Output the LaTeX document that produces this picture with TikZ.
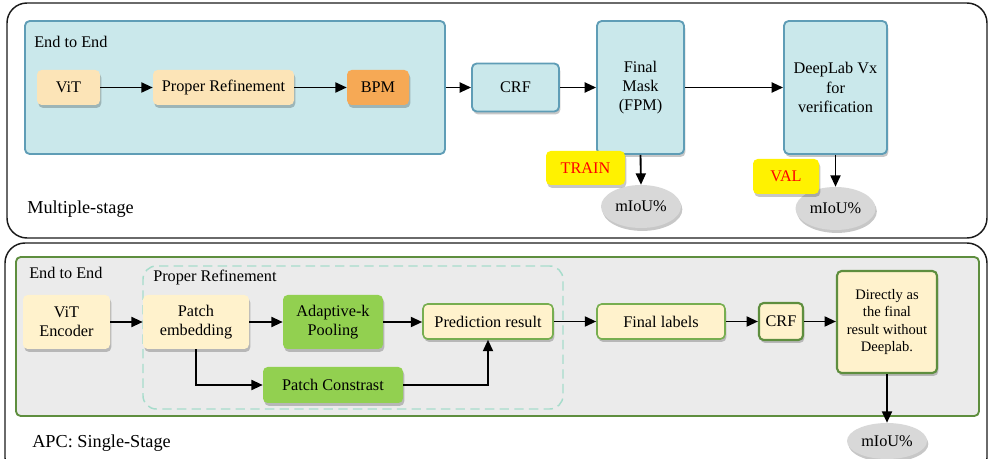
\documentclass[tikz,border=0pt]{standalone}
\usepackage{fontspec}
\setmainfont{Liberation Serif}
\usetikzlibrary{arrows.meta,shapes.geometric,shadows}

\definecolor{cyanfill}{HTML}{CAE8EB}
\definecolor{cyanline}{HTML}{5F9DB6}
\definecolor{peach}{HTML}{FCE4B7}
\definecolor{orng}{HTML}{F6A955}
\definecolor{cream}{HTML}{FFF2CC}
\definecolor{lgreen}{HTML}{92D050}
\definecolor{gline}{HTML}{77AE50}
\definecolor{dgline}{HTML}{5E8E3E}
\definecolor{grayfill}{HTML}{EBEBEB}
\definecolor{dashc}{HTML}{A6DCCB}
\definecolor{ellfill}{HTML}{D8D8D8}
\definecolor{outline}{HTML}{1A1A1A}

\begin{document}
\begin{tikzpicture}[x=0.75pt,y=-0.75pt,
  font=\fontsize{12.2}{14.5}\selectfont,
  sz/.style 2 args={minimum width=#1*0.75pt, minimum height=#2*0.75pt},
  shad/.style={drop shadow={shadow xshift=1pt,shadow yshift=-2.2pt,opacity=0.22,fill=black}},
  base/.style={rectangle, rounded corners=3.5pt, inner sep=0pt, align=center},
  cyanbox/.style={base, fill=cyanfill, draw=cyanline, line width=1.4pt},
  peachbox/.style={base, shad, fill=peach},
  orangebox/.style={base, shad, fill=orng},
  creambox/.style={base, shad, fill=cream},
  creamline/.style={base, shad, fill=cream, draw=gline, line width=1.2pt},
  creamdark/.style={base, shad, fill=cream, draw=dgline, line width=1.6pt},
  greenbox/.style={base, shad, fill=lgreen},
  tag/.style={base, shad, fill=yellow, text=red},
  metric/.style={ellipse, shad, fill=ellfill, inner sep=0pt},
  lbl/.style={anchor=west, inner sep=0pt},
  biglbl/.style={anchor=west, inner sep=0pt, font=\fontsize{13.7}{16}\selectfont},
  arr/.style={-{Triangle[length=8.5pt,width=7.5pt]}, line width=1.4pt, draw=black},
  outer/.style={draw=outline, line width=1.1pt, rounded corners=15pt}
]
\clip (0,0) rectangle (989,459);

% ---------- top panel ----------
\draw[outer] (7,3) rectangle (987,238);
\node[cyanbox, sz={420}{133}] (e2eA) at (235,87.5) {};
\node[lbl] (e2eAlbl) at (34,42) {End to End};
\node[peachbox, sz={63}{35}] (vitA) at (68.5,87.5) {ViT};
\node[peachbox, sz={141}{35}] (prA) at (223.5,87.5) {Proper Refinement};
\node[orangebox, sz={62}{35}] (bpm) at (378,87.5) {BPM};
\node[cyanbox, shad, sz={87}{48}] (crfA) at (515.5,87.5) {CRF};
\node[cyanbox, shad, sz={87}{133}] (fmask) at (640.5,87.5) {Final\\Mask\\(FPM)};
\node[cyanbox, shad, sz={103}{133}] (deeplab) at (835.5,87.5) {DeepLab Vx\\for\\verification};
\node[metric, sz={80}{43}] (miouA) at (641,206.5) {mIoU\%};
\node[tag, sz={79}{34}] (train) at (585.5,168) {TRAIN};
\node[metric, sz={80}{43}] (miouB) at (835.5,208.5) {mIoU\%};
\node[tag, sz={66}{35}] (val) at (786,176.5) {VAL};
\node[biglbl] (multi) at (27,209) {Multiple-stage};

\draw[arr] (vitA) -- (prA);
\draw[arr] (prA) -- (bpm);
\draw[arr] (e2eA) -- (crfA);
\draw[arr] (crfA) -- (fmask);
\draw[arr] (fmask) -- (deeplab);
\draw[arr] (fmask.south) -- (miouA.north);
\draw[arr] (deeplab.south) -- (miouB.north);

% ---------- bottom panel ----------
\draw[outer] (5,243) rectangle (987,478);
\node[base, fill=grayfill, draw=dgline, line width=1.4pt, sz={963}{159}] (e2eB) at (497.5,336.5) {};
\node[lbl] (e2eBlbl) at (29,273) {End to End};
\node[base, draw=dashc, line width=1.1pt, dash pattern=on 7pt off 4pt, rounded corners=10pt, sz={420}{143}] (refine) at (353,337.5) {};
\node[lbl] (refinelbl) at (153,278) {Proper Refinement};
\node[creambox, sz={87}{54}] (vitB) at (66.5,322) {ViT\\Encoder};
\node[creambox, sz={106}{54}] (pemb) at (196,322) {Patch\\embedding};
\node[greenbox, sz={100}{54}] (akp) at (333,322) {Adaptive-k\\Pooling};
\node[greenbox, sz={140}{36}] (pcon) at (333,385) {Patch Constrast};
\node[creamline, sz={130}{35}] (pred) at (488,321.5) {Prediction result};
\node[creamline, sz={128}{35}] (flab) at (661,321.5) {Final labels};
\node[creamdark, sz={44}{37}] (crfB) at (781,321.5) {CRF};
\node[creamdark, sz={100}{102}, font=\fontsize{10.9}{13}\selectfont] (direct) at (887,322) {Directly as\\the final\\result without\\Deeplab.};
\node[metric, sz={80}{36}] (miouC) at (887,441) {mIoU\%};
\node[biglbl] (apc) at (32,443) {APC: Single-Stage};

\draw[arr] (vitB) -- (pemb);
\draw[arr] (pemb) -- (akp);
\draw[arr] (akp.east) -- (pred.west |- akp.east);
\draw[arr] (pemb.south) |- (pcon.west);
\draw[arr] (pcon.east) -| (pred.south);
\draw[arr] (pred) -- (flab);
\draw[arr] (flab) -- (crfB);
\draw[arr] (crfB) -- (direct.west |- crfB.east);
\draw[arr] (direct.south) -- (miouC.north);
\end{tikzpicture}
\end{document}
